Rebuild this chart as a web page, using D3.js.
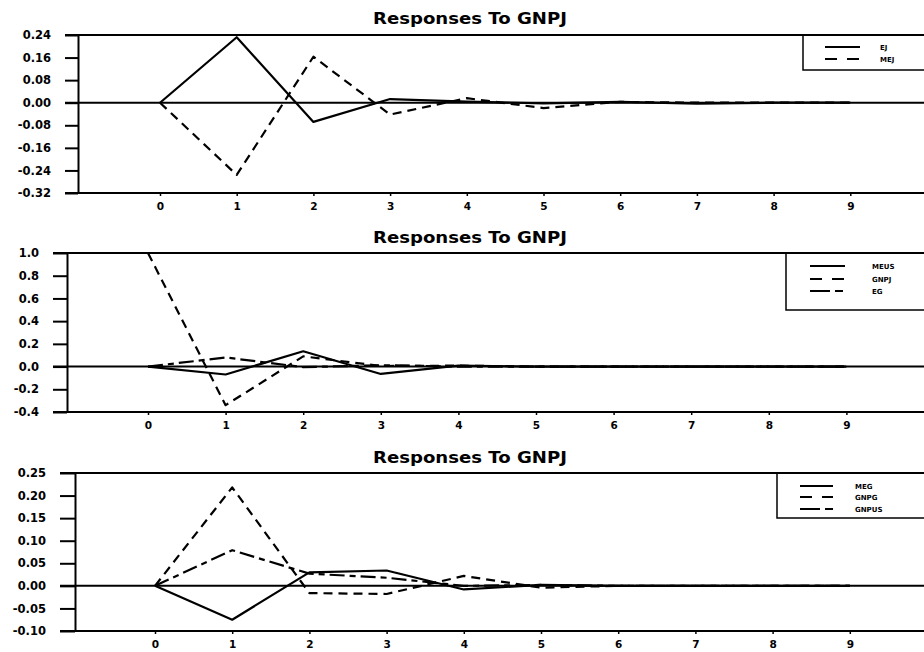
<!DOCTYPE html>
<html><head><meta charset="utf-8">
<script src="https://cdn.jsdelivr.net/npm/d3@7"></script>
<style>body{margin:0;background:#fff} svg{display:block}</style>
</head><body><svg id="c" width="924" height="652"></svg>
<script>
// ---- data ----
const periods = [0, 1, 2, 3, 4, 5, 6, 7, 8, 9];
const chartTitle = "Responses To GNPJ";

// panel 1
const p1Names = ["EJ", "MEJ"];
const ejValues  = [0, 0.232, -0.068, 0.013, 0.004, -0.002, 0.003, -0.003, 0.000, 0.000];
const mejValues = [0, -0.256, 0.163, -0.042, 0.016, -0.019, 0.003, 0.000, 0.000, 0.000];
const p1TickValues = [0.24, 0.16, 0.08, 0.00, -0.08, -0.16, -0.24, -0.32];
const p1TickLabels = ["0.24", "0.16", "0.08", "0.00", "-0.08", "-0.16", "-0.24", "-0.32"];

// panel 2
const p2Names = ["MEUS", "GNPJ", "EG"];
const meusValues = [0, -0.07, 0.135, -0.065, 0.008, 0.000, 0.000, 0.000, 0.000, 0.000];
const gnpjValues = [1.0, -0.34, 0.09, 0.005, 0.008, 0.000, 0.000, 0.000, 0.000, 0.000];
const egValues   = [0, 0.08, -0.005, 0.012, 0.000, 0.000, 0.000, 0.000, 0.000, 0.000];
const p2TickValues = [1.0, 0.8, 0.6, 0.4, 0.2, 0.0, -0.2, -0.4];
const p2TickLabels = ["1.0", "0.8", "0.6", "0.4", "0.2", "0.0", "-0.2", "-0.4"];

// panel 3
const p3Names = ["MEG", "GNPG", "GNPUS"];
const megValues   = [0, -0.075, 0.030, 0.034, -0.008, 0.002, 0.000, 0.000, 0.000, 0.000];
const gnpgValues  = [0, 0.218, -0.016, -0.018, 0.022, -0.004, 0.000, 0.000, 0.000, 0.000];
const gnpusValues = [0, 0.079, 0.027, 0.018, 0.000, 0.002, 0.000, 0.000, 0.000, 0.000];
const p3TickValues = [0.25, 0.20, 0.15, 0.10, 0.05, 0.00, -0.05, -0.10];
const p3TickLabels = ["0.25", "0.20", "0.15", "0.10", "0.05", "0.00", "-0.05", "-0.10"];

// ---- styles ----
const DASH = ["none", "9,6", "15,5,6,5"];
const W = 924;
const font = "'DejaVu Sans', Arial, sans-serif";

const panels = [
  {names: p1Names, series: [ejValues, mejValues], ticks: p1TickValues, labels: p1TickLabels,
   domain: [-0.32, 0.24], axisX: 78, tickX: 65, x0: 160, unit: 76.7, top: 35, bottom: 193,
   titleY: 24, xLabelY: 211, leg: {x: 803, bottom: 70, l1: 825, l2: 860, tx: 880, rows: [47, 59]}},
  {names: p2Names, series: [meusValues, gnpjValues, egValues], ticks: p2TickValues, labels: p2TickLabels,
   domain: [-0.4, 1.0], axisX: 67, tickX: 53, x0: 148, unit: 77.6, top: 253, bottom: 412,
   titleY: 243, xLabelY: 432, leg: {x: 786, bottom: 310, l1: 810, l2: 845, tx: 872, rows: [266, 279, 291]}},
  {names: p3Names, series: [megValues, gnpgValues, gnpusValues], ticks: p3TickValues, labels: p3TickLabels,
   domain: [-0.10, 0.25], axisX: 75, tickX: 60, x0: 155, unit: 77.2, top: 473, bottom: 631,
   titleY: 463, xLabelY: 648, leg: {x: 777, bottom: 518, l1: 800, l2: 833, tx: 855, rows: [486, 497, 509]}}
];

const svg = d3.select("#c");

panels.forEach(p => {
  const g = svg.append("g");
  const x = d3.scaleLinear().domain([0, 1]).range([p.x0, p.x0 + p.unit]);
  const y = d3.scaleLinear().domain(p.domain).range([p.bottom, p.top]);

  // title
  g.append("text").attr("x", 470).attr("y", p.titleY).attr("text-anchor", "middle")
    .attr("font-family", font).attr("font-weight", "bold").attr("font-size", 15)
    .attr("textLength", 194).attr("lengthAdjust", "spacingAndGlyphs")
    .text(chartTitle);

  // frame lines: top, bottom
  [p.top, p.bottom].forEach(yy => {
    g.append("line").attr("x1", p.tickX).attr("x2", W).attr("y1", yy).attr("y2", yy)
      .attr("stroke", "#000").attr("stroke-width", 2);
  });

  // y axis
  const lab = d3.scaleOrdinal().domain(p.ticks).range(p.labels);
  const ya = g.append("g").attr("transform", `translate(${p.axisX},0)`)
    .call(d3.axisLeft(y).tickValues(p.ticks).tickSizeInner(p.axisX - p.tickX).tickSizeOuter(0)
      .tickPadding(14).tickFormat(d => lab(d)));
  ya.select(".domain").attr("stroke-width", 2);
  ya.selectAll(".tick line").attr("stroke-width", 2);
  ya.selectAll(".tick text").attr("font-family", font).attr("font-weight", "bold")
    .attr("font-size", 11.5).attr("fill", "#000");

  // zero line
  g.append("line").attr("x1", p.tickX).attr("x2", W).attr("y1", y(0)).attr("y2", y(0))
    .attr("stroke", "#000").attr("stroke-width", 2);

  // x axis
  const xa = g.append("g").attr("transform", `translate(0,${p.bottom})`)
    .call(d3.axisBottom(x).tickValues(periods).tickSizeInner(3).tickSizeOuter(0).tickPadding(7)
      .tickFormat(d3.format("d")));
  xa.select(".domain").remove();
  xa.selectAll(".tick line").attr("stroke-width", 1.5);
  xa.selectAll(".tick text").attr("font-family", font).attr("font-weight", "bold")
    .attr("font-size", 10.5).attr("fill", "#000");

  // series lines
  const line = d3.line().x((d, i) => x(periods[i])).y(d => y(d));
  p.series.forEach((vals, k) => {
    g.append("path").datum(vals).attr("d", line).attr("fill", "none")
      .attr("stroke", "#000").attr("stroke-width", 2.2)
      .attr("stroke-dasharray", DASH[k]).attr("stroke-linejoin", "round");
  });

  // legend
  const L = p.leg;
  g.append("rect").attr("x", L.x).attr("y", p.top).attr("width", W - L.x + 5).attr("height", L.bottom - p.top)
    .attr("fill", "#fff").attr("stroke", "#000").attr("stroke-width", 1.5);
  g.append("line").attr("x1", p.tickX).attr("x2", W).attr("y1", p.top).attr("y2", p.top)
    .attr("stroke", "#000").attr("stroke-width", 2);
  p.names.forEach((n, k) => {
    const ry = L.rows[k];
    g.append("line").attr("x1", L.l1).attr("x2", L.l2).attr("y1", ry).attr("y2", ry)
      .attr("stroke", "#000").attr("stroke-width", 2)
      .attr("stroke-dasharray", k === 0 ? "none" : (k === 1 ? "12,10" : "20,5,8,5"));
    g.append("text").attr("x", L.tx).attr("y", ry + 2.5).attr("font-family", font)
      .attr("font-weight", "bold").attr("font-size", 7).text(n);
  });
});
</script></body></html>
